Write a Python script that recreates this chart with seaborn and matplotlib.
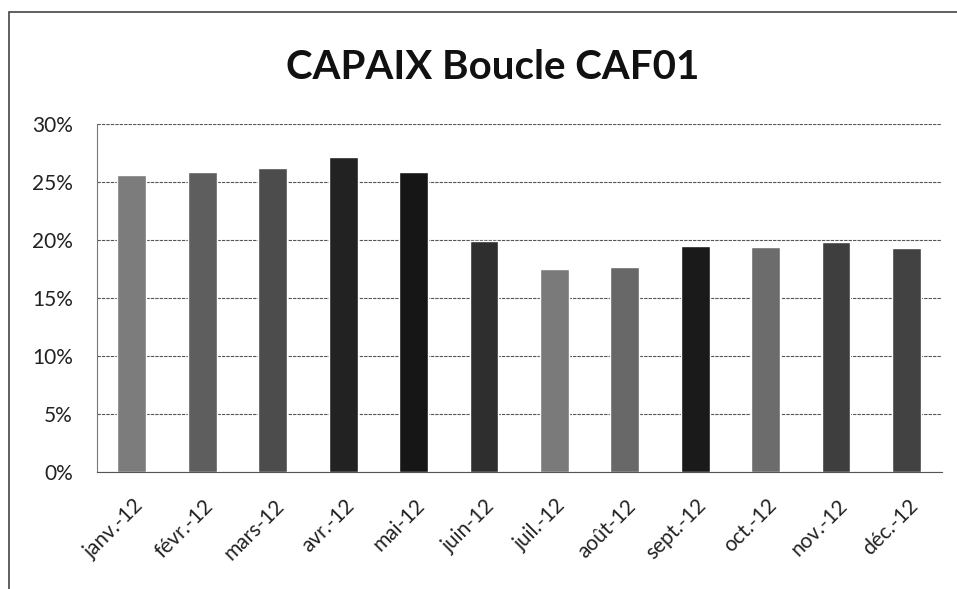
import numpy as np
import pandas as pd
import matplotlib.pyplot as plt
import matplotlib.transforms as mtransforms
import seaborn as sns
from matplotlib.patches import Rectangle
from matplotlib.ticker import PercentFormatter

# Données
mois = ["janv.-12", "févr.-12", "mars-12", "avr.-12", "mai-12", "juin-12",
        "juil.-12", "août-12", "sept.-12", "oct.-12", "nov.-12", "déc.-12"]
taux = [25.6, 25.85, 26.2, 27.2, 25.9, 19.9, 17.5, 17.7, 19.5, 19.4, 19.8, 19.3]

# Nuances de gris (image scannée)
gris = ["#7c7c7c", "#5e5e5e", "#4c4c4c", "#222222", "#161616", "#2e2e2e",
        "#7a7a7a", "#686868", "#1a1a1a", "#6c6c6c", "#3e3e3e", "#424242"]

df = pd.DataFrame({"Mois": mois, "Taux": taux})

sns.set_theme(style="white")
plt.rcParams["font.family"] = ["Lato", "DejaVu Sans"]

fig = plt.figure(figsize=(9.57, 5.89), dpi=100)
ax = fig.add_axes([0.101, 0.199, 0.883, 0.590])

sns.barplot(data=df, x="Mois", y="Taux", hue="Mois", palette=gris,
            legend=False, width=0.41, saturation=1, ax=ax)

ax.set_ylim(0, 30)
ax.set_xlim(-0.5, len(mois) - 0.5)
ax.set_yticks(range(0, 31, 5))
ax.yaxis.set_major_formatter(PercentFormatter(decimals=0))
ax.grid(axis="y", color="#555555", linestyle=(0, (3, 1)), linewidth=0.8)
ax.set_axisbelow(True)

for s in ["top", "right"]:
    ax.spines[s].set_visible(False)
ax.spines["left"].set_color("#777777")
ax.spines["left"].set_linewidth(0.8)
ax.spines["bottom"].set_color("#555555")
ax.spines["bottom"].set_linewidth(0.8)

# Graduations entre les catégories, façon Excel
ax.set_xticks(np.arange(-0.5, len(mois), 1), minor=True)
ax.tick_params(axis="x", which="minor", length=7, width=0.8, color="#555555", direction="out")
ax.tick_params(axis="x", which="major", length=0, pad=17)
ax.tick_params(axis="y", length=6, width=0.8, color="#777777", direction="out",
               pad=11, labelsize=15, labelcolor="#222222")
ax.set_xticks(range(len(mois)))
ax.set_xticklabels(mois, rotation=45, ha="right", rotation_mode="anchor",
                   fontsize=15, color="#222222")
decalage = mtransforms.ScaledTranslation(1 / 100, 0, fig.dpi_scale_trans)
for lab in ax.get_xticklabels():
    lab.set_transform(lab.get_transform() + decalage)
ax.set_xlabel("")
ax.set_ylabel("")

fig.text(0.515, 0.885, "CAPAIX Boucle CAF01", ha="center", va="center",
         fontsize=29, fontweight="bold", color="#111111")

# Cadre du graphique
fig.add_artist(Rectangle((0.009, -0.1), 1.2, 1.08, transform=fig.transFigure,
                         fill=False, edgecolor="#444444", linewidth=1.2))

plt.savefig("out.png", dpi=100)
